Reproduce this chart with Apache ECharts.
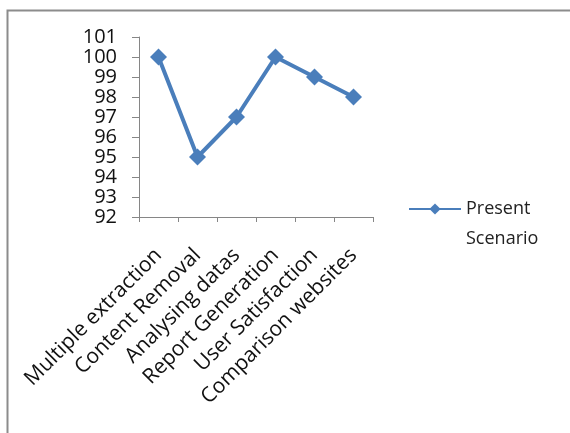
<!DOCTYPE html>
<html>
<head>
<meta charset="utf-8">
<script src="https://cdn.jsdelivr.net/npm/echarts@6/dist/echarts.min.js"></script>
<style>
  html, body { margin: 0; padding: 0; background: #fff; }
  #chart { width: 570px; height: 433px; }
</style>
</head>
<body>
<div id="chart"></div>
<script>
// Feature categories along the x axis
const categories = [
  'Multiple extraction',
  'Content Removal',
  'Analysing datas',
  'Report Generation',
  'User Satisfaction',
  'Comparison websites'
];
// Scores for the present scenario
const presentScenario = [100, 95, 97, 100, 99, 98];
const seriesName = 'Present Scenario';
// Value axis range: one label per integer from 92 to 101
const yMin = 92;
const yMax = 101;
const yStep = 1;

const lineColor = '#4A7EBB';
const axisColor = '#868686';
const fontFamily = 'Open Sans';

const chart = echarts.init(document.getElementById('chart'), null, { renderer: 'canvas' });

chart.setOption({
  animation: false,
  backgroundColor: '#ffffff',
  graphic: [{
    type: 'rect',
    shape: { x: 7.5, y: 10.5, width: 800, height: 800 },
    style: { fill: 'none', stroke: '#8c8c8c', lineWidth: 2 },
    silent: true
  }],
  grid: { left: 139, right: 197, top: 37, bottom: 216, containLabel: false },
  legend: {
    data: [seriesName],
    left: 408,
    top: 164,
    padding: 0,
    orient: 'vertical',
    itemWidth: 52,
    itemHeight: 14,
    itemGap: 4,
    // leading blank line keeps "Present" level with the marker
    formatter: () => '\nPresent\nScenario',
    textStyle: {
      fontFamily,
      fontSize: 18,
      color: '#222',
      lineHeight: 30
    }
  },
  xAxis: {
    type: 'category',
    data: categories,
    boundaryGap: true,
    axisLine: { lineStyle: { color: axisColor, width: 1 } },
    axisTick: { show: true, length: 5, lineStyle: { color: axisColor } },
    axisLabel: {
      interval: 0,
      rotate: 45,
      margin: 35,
      fontFamily,
      fontSize: 21,
      color: '#111'
    },
    splitLine: { show: false }
  },
  yAxis: {
    type: 'value',
    min: yMin,
    max: yMax,
    interval: yStep,
    axisLine: { show: true, lineStyle: { color: axisColor, width: 1 } },
    axisTick: { show: true, length: 7, lineStyle: { color: axisColor } },
    axisLabel: {
      margin: 22,
      fontFamily,
      fontSize: 20,
      color: '#111',
      showMinLabel: true,
      showMaxLabel: true,
      hideOverlap: false,
      minMargin: 0,
      textMargin: 0
    },
    splitLine: { show: false }
  },
  series: [{
    name: seriesName,
    type: 'line',
    data: presentScenario,
    symbol: 'diamond',
    symbolSize: 17,
    lineStyle: { color: lineColor, width: 4 },
    itemStyle: { color: lineColor }
  }]
});
</script>
</body>
</html>
